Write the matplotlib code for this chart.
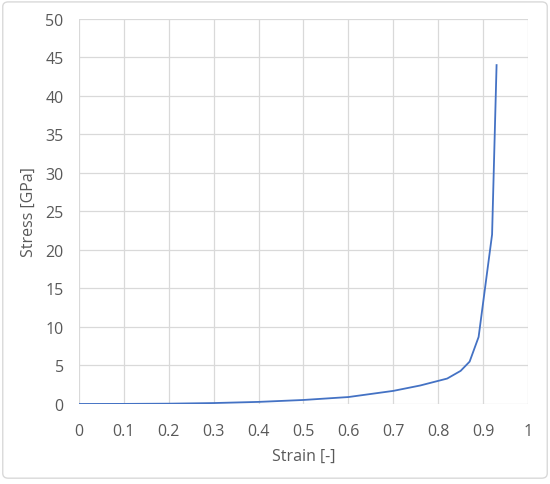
import matplotlib
matplotlib.use('Agg')
import matplotlib.pyplot as plt
from matplotlib.patches import FancyBboxPatch

# data
strain = [0.0, 0.1, 0.2, 0.3, 0.4, 0.5, 0.6, 0.7, 0.76, 0.82, 0.85, 0.87, 0.89, 0.92, 0.93]
stress = [0.0, 0.01, 0.04, 0.12, 0.27, 0.52, 0.9, 1.7, 2.4, 3.3, 4.3, 5.5, 8.7, 22.0, 44.0]

x_ticks = [0, 0.1, 0.2, 0.3, 0.4, 0.5, 0.6, 0.7, 0.8, 0.9, 1]
y_ticks = [0, 5, 10, 15, 20, 25, 30, 35, 40, 45, 50]

plt.rcParams['font.family'] = ['Open Sans', 'DejaVu Sans']
text_col = '#595959'
grid_col = '#d9d9d9'

fig = plt.figure(figsize=(5.5, 4.85), dpi=100)
ax = fig.add_axes([0.1436, 0.165, 0.8164, 0.794])

ax.plot(strain, stress, color='#4472C4', linewidth=1.3)

ax.set_xlim(0, 1)
ax.set_ylim(0, 50)
ax.set_xticks(x_ticks)
ax.set_xticklabels([f'{t:g}' for t in x_ticks])
ax.set_yticks(y_ticks)
ax.grid(True, color=grid_col, linewidth=0.9)
ax.set_axisbelow(True)
for s in ax.spines.values():
    s.set_visible(False)
ax.tick_params(length=0, labelsize=11.5, labelcolor=text_col)
ax.tick_params(axis='x', pad=14)
ax.tick_params(axis='y', pad=11)

ax.set_xlabel('Strain [-]', fontsize=11.5, color=text_col, labelpad=6)
ax.set_ylabel('Stress [GPa]', fontsize=11.5, color=text_col, labelpad=6)

# light outer frame like the chart area border
frame = FancyBboxPatch((0.005, 0.012), 0.99, 0.982, boxstyle='round,pad=0,rounding_size=0.01',
                       transform=fig.transFigure, facecolor='none', edgecolor='#d9d9d9', linewidth=1)
fig.patches.append(frame)

fig.savefig('out.png', dpi=100)
